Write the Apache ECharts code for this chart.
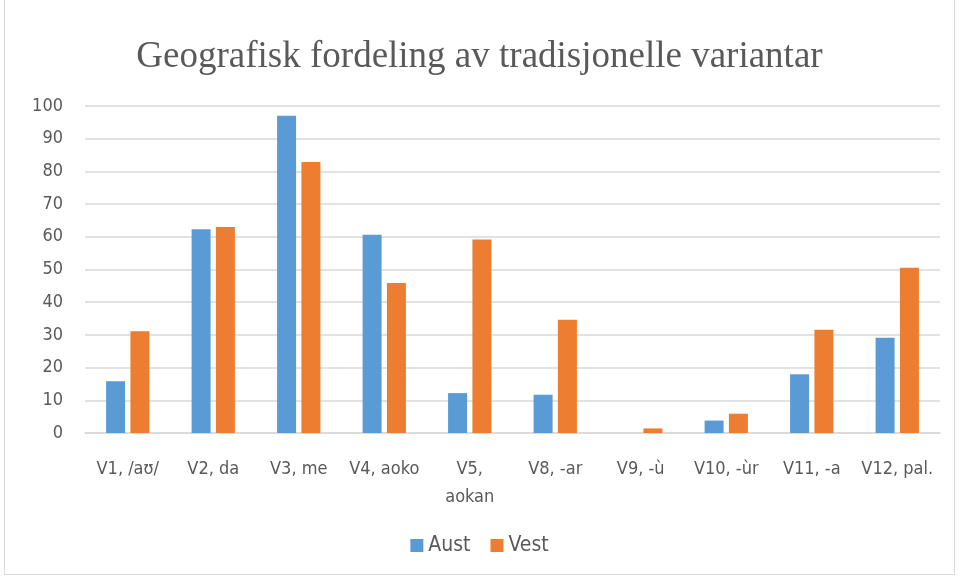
<!DOCTYPE html>
<html>
<head>
<meta charset="utf-8">
<script src="https://cdn.jsdelivr.net/npm/echarts@6/dist/echarts.min.js"></script>
<style>
  html, body { margin: 0; padding: 0; background: #fff; }
  #chart { width: 959px; height: 578px; }
  #frame { position: absolute; left: 4px; top: -2px; width: 951px; height: 577px; border: 1px solid #d9d9d9; box-sizing: border-box; pointer-events: none; }
</style>
</head>
<body>
<div id="chart"></div>
<div id="frame"></div>
<script>
const categories = ['V1, /aʊ/', 'V2, da', 'V3, me', 'V4, aoko', 'V5,\naokan', 'V8, -ar', 'V9, -ù', 'V10, -ùr', 'V11, -a', 'V12, pal.']
const aust = [15.8, 62.3, 97.0, 60.6, 12.2, 11.7, 0, 3.8, 18.0, 29.1]
const vest = [31.1, 63.0, 82.9, 45.9, 59.2, 34.6, 1.4, 5.9, 31.6, 50.5]

const labelFont = "'Liberation Sans Narrow', 'DejaVu Sans Condensed', sans-serif"
const chart = echarts.init(document.getElementById('chart'))

chart.setOption({
  animation: false,
  title: {
    text: 'Geografisk fordeling av tradisjonelle variantar',
    left: 'center',
    top: 34,
    textStyle: {
      fontFamily: "'Liberation Serif', 'DejaVu Serif', serif",
      fontSize: 37,
      fontWeight: 'normal',
      color: '#595959'
    }
  },
  legend: {
    bottom: 17,
    left: 'center',
    itemWidth: 13,
    itemHeight: 13,
    itemGap: 20,
    icon: 'rect',
    textStyle: { fontFamily: labelFont, fontSize: 21, color: '#595959' },
    data: ['Aust', 'Vest']
  },
  grid: { left: 85, right: 19, top: 106, bottom: 145 },
  xAxis: {
    type: 'category',
    data: categories,
    axisLine: { lineStyle: { color: '#d9d9d9', width: 1.5 } },
    axisTick: { show: false },
    axisLabel: {
      interval: 0,
      margin: 22,
      lineHeight: 28,
      fontFamily: labelFont,
      fontSize: 18,
      color: '#595959'
    }
  },
  yAxis: {
    type: 'value',
    min: 0,
    max: 100,
    interval: 10,
    axisLine: { show: false },
    axisTick: { show: false },
    splitLine: { lineStyle: { color: '#d9d9d9', width: 1.5 } },
    axisLabel: {
      margin: 22,
      fontFamily: labelFont,
      fontSize: 18,
      color: '#595959'
    }
  },
  series: [
    {
      name: 'Aust',
      type: 'bar',
      data: aust,
      barWidth: 19,
      barGap: '28%',
      itemStyle: { color: '#5b9bd5' }
    },
    {
      name: 'Vest',
      type: 'bar',
      data: vest,
      barWidth: 19,
      itemStyle: { color: '#ed7d31' }
    }
  ]
})
</script>
</body>
</html>
